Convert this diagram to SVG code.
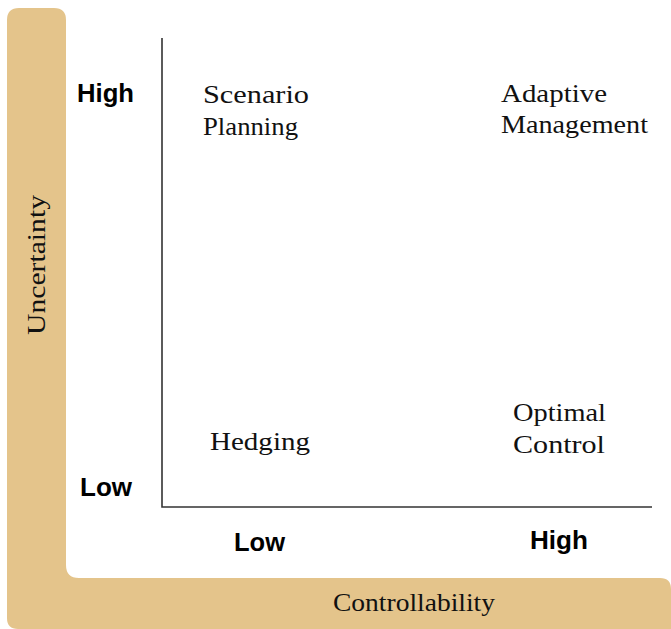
<svg xmlns="http://www.w3.org/2000/svg" width="671" height="629" viewBox="0 0 671 629">
<style>
.band{fill:#E4C48B}
.axis{stroke:#333;stroke-width:1.6;fill:none}
.tick{font-family:"Liberation Sans",Arial,sans-serif;font-weight:bold;font-size:25px;fill:#000}
.lbl{font-family:"Liberation Serif","Times New Roman",serif;font-size:25px;fill:#111}
</style>
<g id="band">
<path class="band" d="M19,8 H54 Q66,8 66,20 V565 Q66,578 79,578 H660 Q671,578 671,589 V629 H18 Q7,629 7,618 V20 Q7,8 19,8 Z"/>
</g>
<g id="connectors">
<path class="axis" d="M162,38 V507 H652"/>
</g>
<g id="axis-labels">
<text class="tick" x="77" y="102" textLength="57" lengthAdjust="spacingAndGlyphs">High</text>
<text class="tick" x="80" y="496" textLength="52" lengthAdjust="spacingAndGlyphs">Low</text>
<text class="tick" x="234" y="551" textLength="51" lengthAdjust="spacingAndGlyphs">Low</text>
<text class="tick" x="530" y="549" textLength="58" lengthAdjust="spacingAndGlyphs">High</text>
<text class="lbl" x="0" y="0" transform="translate(45,335) rotate(-90)" textLength="140" lengthAdjust="spacingAndGlyphs">Uncertainty</text>
<text class="lbl" x="333" y="611" textLength="162" lengthAdjust="spacingAndGlyphs">Controllability</text>
</g>
<g id="node-scenario">
<text class="lbl" x="203" y="103" textLength="106" lengthAdjust="spacingAndGlyphs">Scenario</text>
<text class="lbl" x="203" y="135" textLength="95" lengthAdjust="spacingAndGlyphs">Planning</text>
</g>
<g id="node-adaptive">
<text class="lbl" x="501" y="102" textLength="106" lengthAdjust="spacingAndGlyphs">Adaptive</text>
<text class="lbl" x="501" y="133" textLength="147" lengthAdjust="spacingAndGlyphs">Management</text>
</g>
<g id="node-optimal">
<text class="lbl" x="513" y="421" textLength="93" lengthAdjust="spacingAndGlyphs">Optimal</text>
<text class="lbl" x="513" y="453" textLength="92" lengthAdjust="spacingAndGlyphs">Control</text>
</g>
<g id="node-hedging">
<text class="lbl" x="210" y="450" textLength="100" lengthAdjust="spacingAndGlyphs">Hedging</text>
</g>
</svg>
